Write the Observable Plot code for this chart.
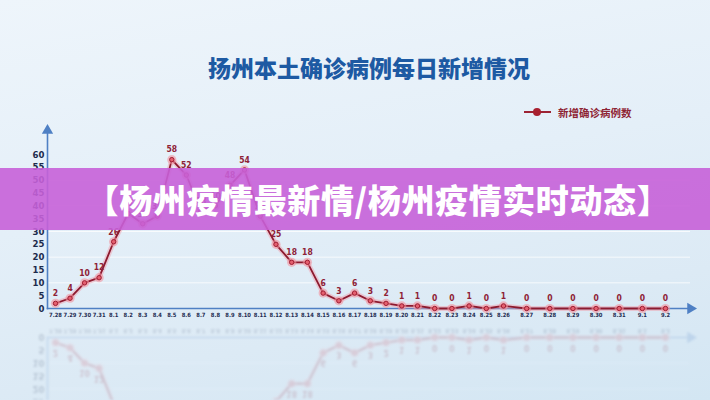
<!DOCTYPE html>
<html><head><meta charset="utf-8">
<script src="https://cdn.jsdelivr.net/npm/d3@7"></script>
<script src="https://cdn.jsdelivr.net/npm/@observablehq/plot@0.6"></script>
<style>
html,body{margin:0;padding:0;}
body{width:710px;height:400px;overflow:hidden;position:relative;font-family:"Noto Sans CJK SC",sans-serif;
 background:linear-gradient(170deg,#eef5fb 0%,#e4eff8 45%,#dceaf5 75%,#d3e6f3 100%);}
#title{position:absolute;left:0;width:738px;top:50px;text-align:center;font-size:23px;font-weight:900;color:#1d5aa3;letter-spacing:0px;z-index:2;}
#legend{position:absolute;left:524px;top:103px;height:18px;display:flex;align-items:center;z-index:2;}
#legend .sw{position:relative;width:27px;height:18px;margin-right:7px;}
#legend .sw:before{content:"";position:absolute;left:0;right:0;top:8px;height:2px;background:#9c2333;}
#legend .sw:after{content:"";position:absolute;left:9px;top:5px;width:8px;height:8px;border-radius:50%;background:#a8202f;}
#legend span{font-size:10.5px;font-weight:700;color:#8e2434;}
#chart{position:absolute;left:0;top:0;z-index:1;}
#reflect{position:absolute;left:0;top:323px;width:710px;height:77px;overflow:hidden;opacity:0.18;filter:blur(0.8px);z-index:0;}
#reflect svg{position:absolute;left:0;top:-323px;transform:scaleY(-1);transform-origin:0 323px;}
#banner{position:absolute;left:0;top:168px;width:710px;height:62px;background:rgba(198,96,216,0.9);z-index:3;
 display:flex;align-items:center;justify-content:center;}
#banner div{color:#fff;font-size:33px;font-weight:900;margin-left:46px;letter-spacing:0.6px;white-space:nowrap;}
</style></head>
<body>
<div id="title">扬州本土确诊病例每日新增情况</div>
<div id="legend"><div class="sw"></div><span>新增确诊病例数</span></div>
<div id="reflect"></div>
<div id="chart"></div>
<div id="banner"><div>【杨州疫情最新情/杨州疫情实时动态】</div></div>
<script>
const dates = ["7.28","7.29","7.30","7.31","8.1","8.2","8.3","8.4","8.5","8.6","8.7","8.8","8.9","8.10","8.11","8.12","8.13","8.14","8.15","8.16","8.17","8.18","8.19","8.20","8.21","8.22","8.23","8.24","8.25","8.26","8.27","8.28","8.29","8.30","8.31","9.1","9.2"];
const cases = [2,4,10,12,26,37,33,36,58,52,38,40,48,54,36,25,18,18,6,3,6,3,2,1,1,0,0,1,0,1,0,0,0,0,0,0,0];
const yTicks = [0,5,10,15,20,25,30,35,40,45,50,55,60];
const gridLines = [10,20,30,40,50];

const data = dates.map((d, i) => ({i, date: d, value: cases[i]}));
const tickFont = '"DejaVu Sans Condensed","DejaVu Sans",sans-serif';

const chart = Plot.plot({
  width: 710,
  height: 400,
  marginLeft: 47,
  marginRight: 20,
  marginTop: 130,
  marginBottom: 92,
  style: {background: "transparent", overflow: "visible", fontFamily: tickFont},
  x: {type: "linear", domain: [0, 13, 24, 29, 36], range: [55, 244, 417, 503, 665], axis: null},
  y: {domain: [0, 60], range: [308, 154], axis: null},
  marks: [
    Plot.ruleY(gridLines, {stroke: "#ffffff", strokeOpacity: 0.75, strokeWidth: 1}),
    Plot.axisY(yTicks, {anchor: "left", tickSize: 0, tickPadding: 3, fontSize: 9.5, fontWeight: "bold", fill: "#1c2b4c", label: null}),
    Plot.axisX(d3.range(dates.length), {anchor: "bottom", tickSize: 0, tickPadding: 4, tickFormat: i => dates[i], fontSize: 5.8, fontWeight: "bold", fill: "#1f2d52", label: null}),
    Plot.frame({anchor: "left", stroke: "#4f80c4", strokeWidth: 1.6}),
    Plot.frame({anchor: "bottom", stroke: "#4f80c4", strokeWidth: 1.6}),
    Plot.dot([0], {frameAnchor: "top-left", symbol: "triangle", r: 4.2, fill: "#4f80c4"}),
    Plot.dot([0], {frameAnchor: "bottom-right", symbol: "triangle", r: 4.2, fill: "#4f80c4", rotate: 90}),
    Plot.line(data, {x: "i", y: "value", stroke: "#f19aa6", strokeWidth: 5, strokeOpacity: 0.45}),
    Plot.line(data, {x: "i", y: "value", stroke: "#8d1a2f", strokeWidth: 1.8}),
    Plot.dot(data, {x: "i", y: "value", r: 4.6, fill: "#f2939f", fillOpacity: 0.6}),
    Plot.dot(data, {x: "i", y: "value", r: 2.2, fill: "#e3606f", stroke: "#a01d32", strokeWidth: 1}),
    Plot.text(data, {x: "i", y: "value", text: "value", dy: -10, fontSize: 8.5, fontWeight: "bold", fill: "#8e2236"})
  ]
});
document.getElementById("chart").appendChild(chart);
document.getElementById("reflect").appendChild(chart.cloneNode(true));
</script>
</body></html>
